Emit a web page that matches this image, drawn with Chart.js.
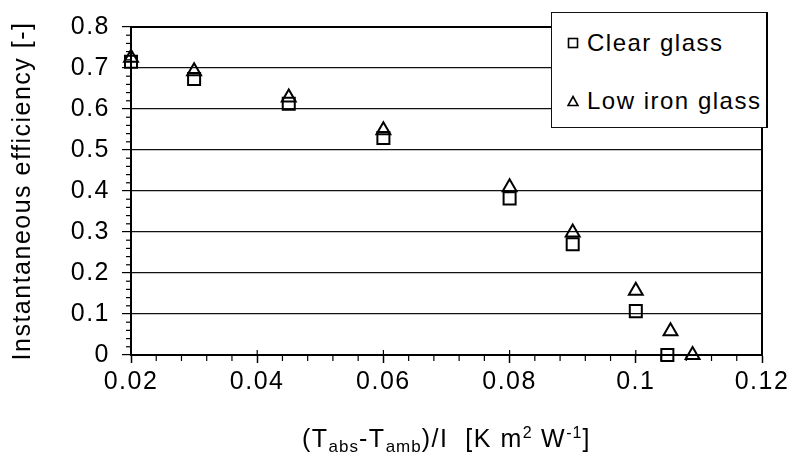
<!DOCTYPE html>
<html><head><meta charset="utf-8">
<script src="https://cdn.jsdelivr.net/npm/chart.js@4/dist/chart.umd.min.js"></script>
<style>
html,body{margin:0;padding:0;background:#fff;}
#wrap{position:relative;width:793px;height:466px;overflow:hidden;}
#legend{position:absolute;left:551px;top:12px;width:217px;height:116px;background:#fff;border:1px solid #111;border-right:2px solid #000;box-sizing:border-box;font-family:'Liberation Sans',Arial,sans-serif;font-size:24px;letter-spacing:1.5px;color:#000;}
.item{position:absolute;left:15px;height:30px;display:flex;align-items:center;white-space:nowrap;}
.item svg{margin-right:8px;flex:none;}
#xtitle{position:absolute;top:423px;font-family:'Liberation Sans',Arial,sans-serif;font-size:25px;line-height:30px;letter-spacing:1.5px;white-space:nowrap;color:#000;}
#xtitle sub,#xtitle sup{font-size:17px;line-height:0;letter-spacing:1px;}
#xtitle sub{vertical-align:-5px;}
#xtitle sup{font-size:16px;vertical-align:9px;}
</style></head><body>
<div id="wrap"><canvas id="c" width="793" height="466"></canvas><div id="legend"></div><div id="xtitle"></div></div>
<script>
// ---- data ----
const seriesNames = ['Clear glass', 'Low iron glass'];
const clearX = [0.02, 0.03, 0.045, 0.06, 0.08, 0.09, 0.10, 0.105];
const clearY = [0.715, 0.673, 0.613, 0.529, 0.382, 0.270, 0.107, 0.0];
const lowIronX = [0.02, 0.03, 0.045, 0.06, 0.08, 0.09, 0.10, 0.1055, 0.109];
const lowIronY = [0.725, 0.692, 0.628, 0.548, 0.409, 0.299, 0.157, 0.058, 0.0];
const xTickValues = [0.02, 0.04, 0.06, 0.08, 0.10, 0.12];
const xTickLabels = ['0.02', '0.04', '0.06', '0.08', '0.1', '0.12'];
const yTickValues = [0, 0.1, 0.2, 0.3, 0.4, 0.5, 0.6, 0.7, 0.8];
const yTickLabels = ['0', '0.1', '0.2', '0.3', '0.4', '0.5', '0.6', '0.7', '0.8'];
const yTitle = 'Instantaneous efficiency [-]';

const FAMILY = "'Liberation Sans', Arial, sans-serif";

const framePlugin = {
  id: 'frame',
  beforeDraw(chart) { chart.ctx.letterSpacing = '1.5px'; },
  beforeDatasetsDraw(chart) {
    const {ctx, chartArea: a, scales: {x, y}} = chart;
    const seg = (x1, y1, x2, y2) => { ctx.beginPath(); ctx.moveTo(x1, y1); ctx.lineTo(x2, y2); ctx.stroke(); };
    ctx.save();
    ctx.strokeStyle = '#000';
    ctx.lineWidth = 2;
    ctx.beginPath(); ctx.moveTo(a.left, a.top); ctx.lineTo(a.right, a.top); ctx.lineTo(a.right, a.bottom); ctx.stroke();
    ctx.lineWidth = 1.2;
    const xt = x.ticks.map(t => t.value);
    for (let i = 0; i < xt.length; i++) {
      const px = x.getPixelForValue(xt[i]);
      seg(px, a.bottom - 5, px, a.bottom);
      if (i < xt.length - 1) {
        for (let k = 1; k < 5; k++) {
          const m = x.getPixelForValue(xt[i] + (xt[i + 1] - xt[i]) * k / 5);
          seg(m, a.bottom, m, a.bottom + 6);
        }
      }
    }
    const yt = y.ticks.map(t => t.value);
    for (let i = 0; i < yt.length - 1; i++) {
      for (let k = 1; k < 5; k++) {
        const m = y.getPixelForValue(yt[i] + (yt[i + 1] - yt[i]) * k / 5);
        seg(a.left - 5, m, a.left, m);
      }
    }
    ctx.restore();
  }
};

const chart = new Chart(document.getElementById('c'), {
  type: 'scatter',
  data: {
    datasets: [
      { label: seriesNames[0], data: clearX.map((v, i) => ({x: v, y: clearY[i]})),
        pointStyle: 'rect', pointRadius: 8.5, pointHoverRadius: 8.5, clip: false,
        borderColor: '#000', backgroundColor: 'rgba(0,0,0,0)', pointBorderWidth: 2, borderWidth: 2 },
      { label: seriesNames[1], data: lowIronX.map((v, i) => ({x: v, y: lowIronY[i]})),
        pointStyle: 'triangle', pointRadius: 8, pointHoverRadius: 8, clip: false,
        borderColor: '#000', backgroundColor: 'rgba(0,0,0,0)', pointBorderWidth: 2, borderWidth: 2 }
    ]
  },
  options: {
    responsive: false, animation: false, devicePixelRatio: 1,
    layout: { padding: { top: 22, right: 31, left: 0, bottom: 0 } },
    plugins: { legend: { display: false }, tooltip: { enabled: false } },
    scales: {
      x: {
        type: 'linear', min: 0.02, max: 0.12,
        afterFit(s) { s.height = 111; },
        afterBuildTicks(s) { s.ticks = xTickValues.map(v => ({value: v})); },
        ticks: { callback: (v, i) => xTickLabels[i], color: '#000', font: {family: FAMILY, size: 25}, padding: 4, maxRotation: 0, autoSkip: false },
        grid: { drawOnChartArea: false, drawTicks: true, tickLength: 8, tickColor: '#000', tickWidth: 1.5 },
        border: { display: true, color: '#000', width: 2 }
      },
      y: {
        type: 'linear', min: 0, max: 0.8,
        afterFit(s) { s.width = 131; },
        afterBuildTicks(s) { s.ticks = yTickValues.map(v => ({value: v})); },
        ticks: { callback: (v, i) => yTickLabels[i], color: '#000', font: {family: FAMILY, size: 25}, padding: 12, autoSkip: false },
        grid: { color: '#111', lineWidth: 1.2, tickLength: 9, tickColor: '#000', tickWidth: 1.2 },
        border: { display: true, color: '#000', width: 2 },
        title: { display: true, text: yTitle, color: '#000', font: {family: FAMILY, size: 25}, padding: {top: 8, bottom: 0} }
      }
    }
  },
  plugins: [framePlugin]
});

// HTML legend built from dataset labels
const markerSvg = style => style === 'rect'
  ? '<svg width="12" height="12" viewBox="0 0 12 12"><rect x="1.5" y="1.5" width="9" height="9" fill="none" stroke="#000" stroke-width="1.6"/></svg>'
  : '<svg width="12" height="12" viewBox="0 0 12 12"><polygon points="6,1.5 11,10.5 1,10.5" fill="none" stroke="#000" stroke-width="1.6"/></svg>';
const legendEl = document.getElementById('legend');
const rowTops = [15, 73];
chart.data.datasets.forEach((ds, i) => {
  const d = document.createElement('div');
  d.className = 'item';
  d.style.top = rowTops[i] + 'px';
  d.innerHTML = markerSvg(ds.pointStyle) + '<span></span>';
  d.querySelector('span').textContent = ds.label;
  legendEl.appendChild(d);
});

// x-axis title with sub/superscripts
const xt = document.getElementById('xtitle');
xt.innerHTML = '(T<sub>abs</sub>-T<sub>amb</sub>)/I&nbsp;&nbsp;[K m<sup>2</sup> W<sup>-1</sup>]';
const ca = chart.chartArea;
xt.style.left = ((ca.left + ca.right) / 2 - xt.offsetWidth / 2) + 'px';
</script>
</body></html>
